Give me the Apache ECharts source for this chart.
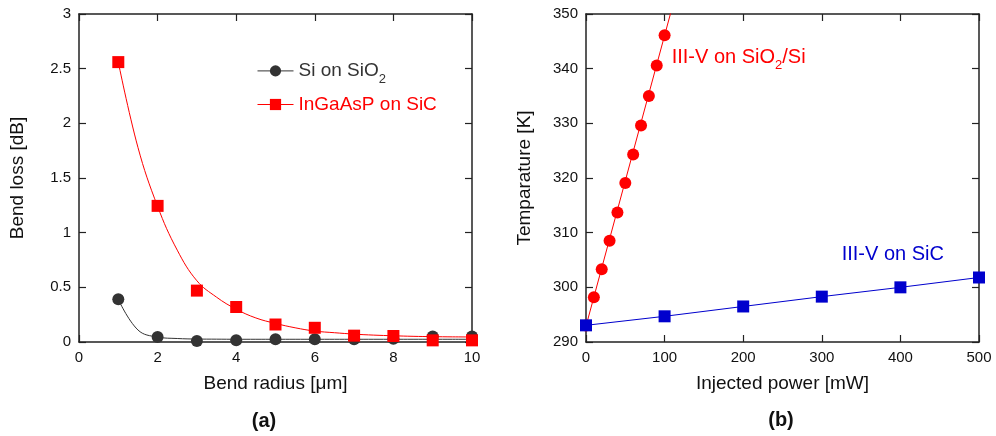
<!DOCTYPE html>
<html><head><meta charset="utf-8">
<script src="https://cdn.jsdelivr.net/npm/echarts@6/dist/echarts.min.js"></script>
<style>html,body{margin:0;padding:0;background:#fff}#c{width:996px;height:436px}</style>
</head><body><div id="c"></div>
<script>
// ---- Panel (a): bend loss vs bend radius ----
const radius = [1, 2, 3, 4, 5, 6, 7, 8, 9, 10];
const lossSi = [0.39, 0.045, 0.01, 0.015, 0.025, 0.025, 0.025, 0.03, 0.05, 0.05];
const lossInGaAsP = [2.56, 1.245, 0.47, 0.32, 0.16, 0.13, 0.058, 0.055, 0.015, 0.015];
const fitX = [1, 1.5, 2, 2.5, 3, 3.5, 4, 4.5, 5, 5.5, 6, 6.5, 7, 7.5, 8, 8.5, 9, 9.5, 10];
const fitSiY = [0.39, 0.11, 0.045, 0.032, 0.027, 0.026, 0.025, 0.025, 0.025, 0.025, 0.025, 0.025, 0.025, 0.025, 0.025, 0.025, 0.025, 0.025, 0.025];
const fitInGaAsPY = [2.56, 1.78, 1.24, 0.84, 0.56, 0.41, 0.30, 0.22, 0.17, 0.13, 0.10, 0.085, 0.072, 0.063, 0.057, 0.052, 0.049, 0.047, 0.046];
const xTicksA = [0, 2, 4, 6, 8, 10];
const yTicksA = [0, 0.5, 1, 1.5, 2, 2.5, 3];

// ---- Panel (b): temperature vs injected power ----
const powerSiO2 = [0, 10, 20, 30, 40, 50, 60, 70, 80, 90, 100];
const tempSiO2 = [293, 298.2, 303.3, 308.5, 313.7, 319.1, 324.3, 329.6, 335.0, 340.6, 346.1];
const fitSiO2X = [0, 110];
const fitSiO2Y = [292.9, 351.4];
const powerSiC = [0, 100, 200, 300, 400, 500];
const tempSiC = [293.05, 294.7, 296.5, 298.3, 300.0, 301.8];
const xTicksB = [0, 100, 200, 300, 400, 500];
const yTicksB = [290, 300, 310, 320, 330, 340, 350];

const FONT = 'Liberation Sans, Arial, sans-serif';
const AXC = '#222';
const RED = '#ff0000';
const BLUE = '#0000cd';
const DARK = '#333333';

const zip = (a, b) => a.map((v, i) => [v, b[i]]);

function axisBase(ticks, extra) {
  return Object.assign({
    type: 'value',
    min: ticks[0], max: ticks[ticks.length - 1], interval: ticks[1] - ticks[0],
    axisLine: { show: true, onZero: false, lineStyle: { color: AXC, width: 1.5 } },
    axisTick: { show: true, inside: true, length: 7, lineStyle: { color: AXC, width: 1.2 } },
    axisLabel: { show: true, fontFamily: FONT, fontSize: 15, color: '#111', margin: 8 },
    splitLine: { show: false },
    nameTextStyle: { fontFamily: FONT, fontSize: 19, color: '#111' }
  }, extra);
}
function mirror(ticks, extra) {
  const a = axisBase(ticks, extra);
  a.axisLabel = { show: false };
  return a;
}

const richDark = {
  m: { fontFamily: FONT, fontSize: 19, lineHeight: 30, color: DARK },
  s: { fontFamily: FONT, fontSize: 13, lineHeight: 8, verticalAlign: 'bottom', color: DARK }
};
const richRed = {
  m: { fontFamily: FONT, fontSize: 19, lineHeight: 30, color: RED },
  s: { fontFamily: FONT, fontSize: 13, lineHeight: 8, verticalAlign: 'bottom', color: RED }
};
const richBlue = {
  m: { fontFamily: FONT, fontSize: 20, lineHeight: 30, color: BLUE }
};
const richRed20 = {
  m: { fontFamily: FONT, fontSize: 20, lineHeight: 30, color: RED },
  s: { fontFamily: FONT, fontSize: 13, lineHeight: 8, verticalAlign: 'bottom', color: RED }
};

const option = {
  backgroundColor: '#fff',
  animation: false,
  grid: [
    { left: 79, right: 524, top: 14, bottom: 94 },
    { left: 586, right: 17, top: 14, bottom: 94 }
  ],
  xAxis: [
    axisBase(xTicksA, { gridIndex: 0, position: 'bottom', name: 'Bend radius [\u03bcm]', nameLocation: 'middle', nameGap: 32 }),
    mirror(xTicksA, { gridIndex: 0, position: 'top' }),
    axisBase(xTicksB, { gridIndex: 1, position: 'bottom', name: 'Injected power [mW]', nameLocation: 'middle', nameGap: 32 }),
    mirror(xTicksB, { gridIndex: 1, position: 'top' })
  ],
  yAxis: [
    axisBase(yTicksA, { gridIndex: 0, position: 'left', name: 'Bend loss [dB]', nameLocation: 'middle', nameGap: 52 }),
    mirror(yTicksA, { gridIndex: 0, position: 'right' }),
    axisBase(yTicksB, { gridIndex: 1, position: 'left', name: 'Temparature [K]', nameLocation: 'middle', nameGap: 52 }),
    mirror(yTicksB, { gridIndex: 1, position: 'right' })
  ],
  legend: [
    {
      left: 257, top: 61.4, padding: 0, orient: 'vertical', selectedMode: false,
      itemWidth: 36, itemHeight: 14,
      data: [{ name: 'Si on SiO2', lineStyle: { width: 1, color: DARK, opacity: 1, type: 'solid' } }],
      formatter: () => '{m|Si on SiO}{s|2}',
      textStyle: { fontFamily: FONT, fontSize: 19, color: DARK, rich: richDark }
    },
    {
      left: 257, top: 95, padding: 0, orient: 'vertical', selectedMode: false,
      itemWidth: 36, itemHeight: 14,
      data: [{ name: 'InGaAsP on SiC', lineStyle: { width: 1, color: RED, opacity: 1, type: 'solid' } }],
      formatter: () => '{m|InGaAsP on SiC}',
      textStyle: { fontFamily: FONT, fontSize: 19, color: RED, rich: richRed }
    }
  ],
  graphic: [
    { type: 'text', left: 671.7, top: 47, style: { text: '{m|III-V on SiO}{s|2}{m|/Si}', rich: richRed20, fill: RED } },
    { type: 'text', left: 841.7, top: 244.3, style: { text: '{m|III-V on SiC}', rich: richBlue, fill: BLUE } },
    { type: 'text', x: 264, y: 421, style: { text: '(a)', font: 'bold 20px ' + FONT, fill: '#111', textAlign: 'center', textVerticalAlign: 'middle' } },
    { type: 'text', x: 781, y: 420, style: { text: '(b)', font: 'bold 20px ' + FONT, fill: '#111', textAlign: 'center', textVerticalAlign: 'middle' } }
  ],
  series: [
    { name: 'fitSi', type: 'line', xAxisIndex: 0, yAxisIndex: 0, data: zip(fitX, fitSiY), smooth: 0.4, symbol: 'none', silent: true, lineStyle: { color: DARK, width: 1 }, z: 2 },
    { name: 'fitInGaAsP', type: 'line', xAxisIndex: 0, yAxisIndex: 0, data: zip(fitX, fitInGaAsPY), smooth: 0.4, symbol: 'none', silent: true, lineStyle: { color: RED, width: 1 }, z: 2 },
    { name: 'Si on SiO2', type: 'line', xAxisIndex: 0, yAxisIndex: 0, data: zip(radius, lossSi), symbol: 'circle', symbolSize: 12, showSymbol: true, clip: false, itemStyle: { color: DARK }, lineStyle: { width: 0, opacity: 0, color: DARK }, z: 3 },
    { name: 'InGaAsP on SiC', type: 'line', xAxisIndex: 0, yAxisIndex: 0, data: zip(radius, lossInGaAsP), symbol: 'rect', symbolSize: 12, showSymbol: true, clip: false, itemStyle: { color: RED }, lineStyle: { width: 0, opacity: 0, color: RED }, z: 4 },
    { name: 'fitSiO2', type: 'line', xAxisIndex: 2, yAxisIndex: 2, data: zip(fitSiO2X, fitSiO2Y), symbol: 'none', clip: true, silent: true, lineStyle: { color: RED, width: 1 }, z: 2 },
    { name: 'III-V on SiO2/Si', type: 'line', xAxisIndex: 2, yAxisIndex: 2, data: zip(powerSiO2, tempSiO2), symbol: 'circle', symbolSize: 12, clip: false, itemStyle: { color: RED }, lineStyle: { width: 0, opacity: 0 }, z: 3 },
    { name: 'III-V on SiC', type: 'line', xAxisIndex: 2, yAxisIndex: 2, data: zip(powerSiC, tempSiC), symbol: 'rect', symbolSize: 12, clip: false, itemStyle: { color: BLUE }, lineStyle: { width: 1, color: BLUE }, z: 4 }
  ]
};

const chart = echarts.init(document.getElementById('c'), null, { renderer: 'canvas' });
chart.setOption(option);
</script>
</body></html>
